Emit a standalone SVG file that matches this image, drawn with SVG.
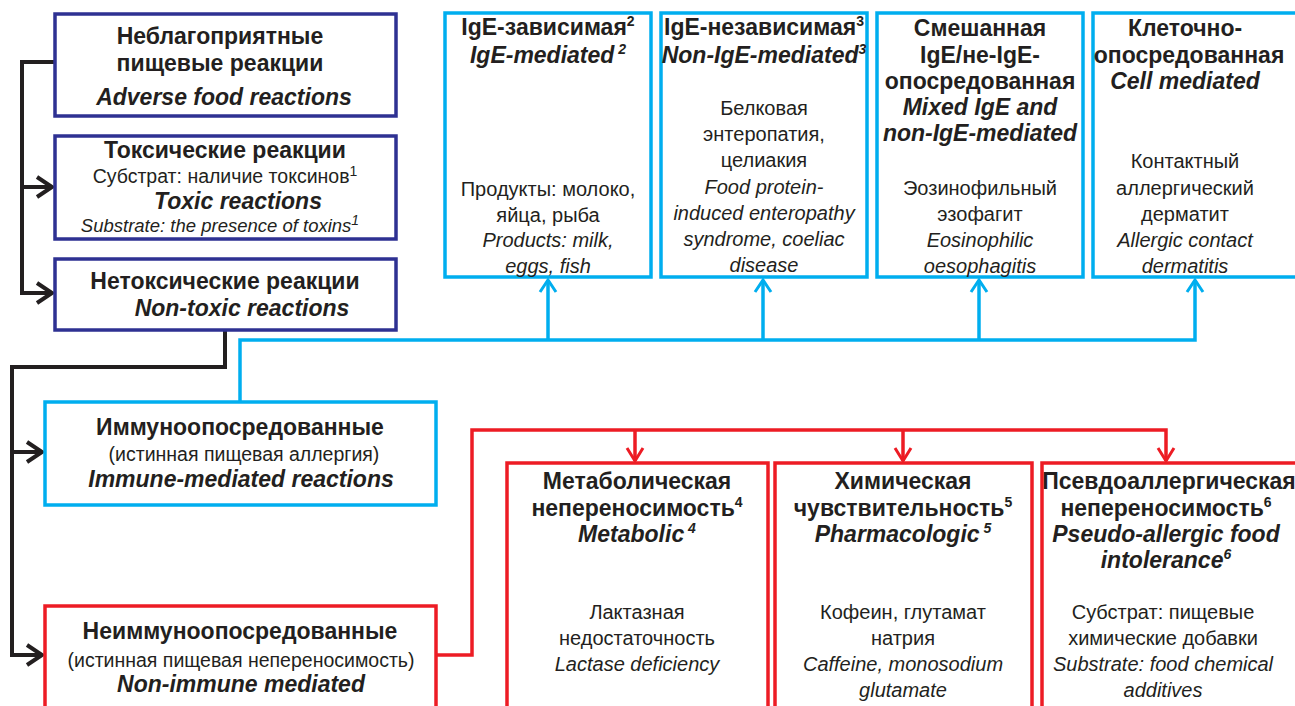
<svg xmlns="http://www.w3.org/2000/svg" width="1295" height="706" viewBox="0 0 1295 706">
<style>
text{font-family:"Liberation Sans",Arial,sans-serif;fill:#231f20;text-anchor:middle}
.h{font-size:23px;font-weight:bold}
.hi{font-size:23px;font-weight:bold;font-style:italic}
.r{font-size:20px}
.i{font-size:20px;font-style:italic}
.s{font-size:19.5px}
.si{font-size:18.5px;font-style:italic}
.sup{font-size:14px}
.bd{fill:#fff;stroke:#2e3192;stroke-width:3.5}
.bl{fill:#fff;stroke:#00aeef;stroke-width:3.5}
.rd{fill:#fff;stroke:#ed1c24;stroke-width:3.5}
.ck{fill:none;stroke:#231f20;stroke-width:4;stroke-linejoin:miter}
.cb{fill:none;stroke:#00aeef;stroke-width:3.5}
.cr{fill:none;stroke:#ed1c24;stroke-width:3.5}
</style>
<defs>
<marker id="ak" markerUnits="userSpaceOnUse" markerWidth="24" markerHeight="26" refX="18" refY="12" orient="auto"><path d="M3,2 L18,12 L3,22" fill="none" stroke="#231f20" stroke-width="4"/></marker>
<marker id="ab" markerUnits="userSpaceOnUse" markerWidth="20" markerHeight="20" refX="14" refY="10" orient="auto"><path d="M2,2 L14,10 L2,18" fill="none" stroke="#00aeef" stroke-width="3"/></marker>
<marker id="ar" markerUnits="userSpaceOnUse" markerWidth="20" markerHeight="20" refX="14" refY="10" orient="auto"><path d="M1,2 L14,10 L1,18" fill="none" stroke="#ed1c24" stroke-width="3"/></marker>
</defs>

<g id="connectors">
<path class="ck" d="M55,62 H22 V293 H52" marker-end="url(#ak)"/>
<path class="ck" d="M22,187 H52" marker-end="url(#ak)"/>
<path class="ck" d="M225,331 V367 H12 V655 H42" marker-end="url(#ak)"/>
<path class="ck" d="M12,452 H42" marker-end="url(#ak)"/>
<path class="cb" d="M240,402 V340 H1195 V280" marker-end="url(#ab)"/>
<path class="cb" d="M548,340 V280" marker-end="url(#ab)"/>
<path class="cb" d="M763,340 V280" marker-end="url(#ab)"/>
<path class="cb" d="M979,340 V280" marker-end="url(#ab)"/>
<path class="cr" d="M437,655 H472 V430 H1166 V461" marker-end="url(#ar)"/>
<path class="cr" d="M635,430 V461" marker-end="url(#ar)"/>
<path class="cr" d="M903,430 V461" marker-end="url(#ar)"/>
</g>

<g id="adverse">
<rect class="bd" x="55" y="14" width="341" height="102"/>
<text class="h" x="220" y="44" font-size="24">Неблагоприятные</text>
<text class="h" x="220" y="71">пищевые реакции</text>
<text class="hi" x="224" y="105">Adverse food reactions</text>
</g>

<g id="toxic">
<rect class="bd" x="55" y="136" width="341" height="103"/>
<text class="h" x="225" y="158">Токсические реакции</text>
<text class="s" x="225" y="183">Субстрат: наличие токсинов<tspan class="sup" dy="-7">1</tspan></text>
<text class="hi" x="238" y="209">Toxic reactions</text>
<text class="si" x="220" y="232">Substrate: the presence of toxins<tspan class="sup" dy="-7">1</tspan></text>
</g>

<g id="nontoxic">
<rect class="bd" x="55" y="259" width="341" height="71"/>
<text class="h" x="225" y="289">Нетоксические реакции</text>
<text class="hi" x="242" y="316">Non-toxic reactions</text>
</g>

<g id="ige">
<rect class="bl" x="445" y="13" width="206" height="264"/>
<text class="h" x="548" y="35">IgE-зависимая<tspan class="sup" dy="-9">2</tspan></text>
<text class="hi" x="548" y="63">IgE-mediated<tspan class="sup" dy="-9"> 2</tspan></text>
<text class="r" x="548" y="196">Продукты: молоко,</text>
<text class="r" x="548" y="222">яйца, рыба</text>
<text class="i" x="548" y="247">Products: milk,</text>
<text class="i" x="548" y="273">eggs, fish</text>
</g>

<g id="nonige">
<rect class="bl" x="661" y="13" width="206" height="264"/>
<text class="h" x="764" y="35">IgE-независимая<tspan class="sup" dy="-9">3</tspan></text>
<text class="hi" x="764" y="63">Non-IgE-mediated<tspan class="sup" dy="-9">3</tspan></text>
<text class="r" x="764" y="115">Белковая</text>
<text class="r" x="764" y="141">энтеропатия,</text>
<text class="r" x="764" y="167">целиакия</text>
<text class="i" x="764" y="194">Food protein-</text>
<text class="i" x="764" y="220">induced enteropathy</text>
<text class="i" x="764" y="246">syndrome, coeliac</text>
<text class="i" x="764" y="272">disease</text>
</g>

<g id="mixed">
<rect class="bl" x="877" y="13" width="206" height="264"/>
<text class="h" x="980" y="36">Смешанная</text>
<text class="h" x="980" y="63">IgE/не-IgE-</text>
<text class="h" x="980" y="89">опосредованная</text>
<text class="hi" x="980" y="115">Mixed IgE and</text>
<text class="hi" x="980" y="141">non-IgE-mediated</text>
<text class="r" x="980" y="195">Эозинофильный</text>
<text class="r" x="980" y="221">эзофагит</text>
<text class="i" x="980" y="247">Eosinophilic</text>
<text class="i" x="980" y="273">oesophagitis</text>
</g>

<g id="cell">
<rect class="bl" x="1093" y="13" width="230" height="264"/>
<text class="h" x="1185" y="36">Клеточно-</text>
<text class="h" x="1189" y="63">опосредованная</text>
<text class="hi" x="1185" y="89">Cell mediated</text>
<text class="r" x="1185" y="168">Контактный</text>
<text class="r" x="1185" y="195">аллергический</text>
<text class="r" x="1185" y="221">дерматит</text>
<text class="i" x="1185" y="247">Allergic contact</text>
<text class="i" x="1185" y="273">dermatitis</text>
</g>

<g id="immune">
<rect class="bl" x="45" y="402" width="391" height="103"/>
<text class="h" x="240" y="435">Иммуноопосредованные</text>
<text class="s" x="244" y="461">(истинная пищевая аллергия)</text>
<text class="hi" x="241" y="487">Immune-mediated reactions</text>
</g>

<g id="nonimmune">
<rect class="rd" x="45" y="606" width="391" height="140"/>
<text class="h" x="240" y="639">Неиммуноопосредованные</text>
<text class="s" x="241" y="667">(истинная пищевая непереносимость)</text>
<text class="hi" x="241" y="692">Non-immune mediated</text>
</g>

<g id="metabolic">
<rect class="rd" x="507" y="463" width="261" height="290"/>
<text class="h" x="637" y="489">Метаболическая</text>
<text class="h" x="637" y="516">непереносимость<tspan class="sup" dy="-9">4</tspan></text>
<text class="hi" x="637" y="542">Metabolic<tspan class="sup" dy="-9"> 4</tspan></text>
<text class="r" x="637" y="619">Лактазная</text>
<text class="r" x="637" y="645">недостаточность</text>
<text class="i" x="637" y="671">Lactase deficiency</text>
</g>

<g id="pharmacologic">
<rect class="rd" x="775" y="463" width="257" height="290"/>
<text class="h" x="903" y="489">Химическая</text>
<text class="h" x="903" y="516">чувствительность<tspan class="sup" dy="-9">5</tspan></text>
<text class="hi" x="903" y="542">Pharmacologic<tspan class="sup" dy="-9"> 5</tspan></text>
<text class="r" x="903" y="619">Кофеин, глутамат</text>
<text class="r" x="903" y="645">натрия</text>
<text class="i" x="903" y="671">Caffeine, monosodium</text>
<text class="i" x="903" y="697">glutamate</text>
</g>

<g id="pseudo">
<rect class="rd" x="1042" y="463" width="290" height="290"/>
<text class="h" x="1169" y="489">Псевдоаллергическая</text>
<text class="h" x="1166" y="516">непереносимость<tspan class="sup" dy="-9">6</tspan></text>
<text class="hi" x="1166" y="542">Pseudo-allergic food</text>
<text class="hi" x="1166" y="568">intolerance<tspan class="sup" dy="-9">6</tspan></text>
<text class="r" x="1163" y="619">Субстрат: пищевые</text>
<text class="r" x="1163" y="645">химические добавки</text>
<text class="i" x="1163" y="671">Substrate: food chemical</text>
<text class="i" x="1163" y="697">additives</text>
</g>
</svg>
